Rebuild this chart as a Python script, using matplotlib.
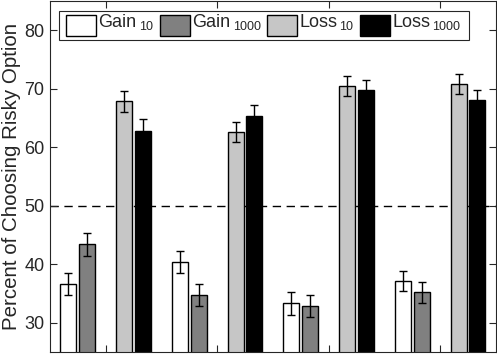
import numpy as np
import matplotlib.pyplot as plt
from matplotlib.patches import Rectangle

plt.rcParams['font.family'] = ['Liberation Sans', 'DejaVu Sans']

# four conditions, each with gain pair and loss pair
groups = [1, 2, 3, 4]
leg_main = ['Gain', 'Gain', 'Loss', 'Loss']
leg_sub = ['10', '1000', '10', '1000']
gain10 = [36.6, 40.4, 33.3, 37.1]
gain1000 = [43.4, 34.8, 32.8, 35.2]
loss10 = [67.9, 62.6, 70.5, 70.8]
loss1000 = [62.8, 65.4, 69.8, 68.1]
err_gain10 = [1.9, 1.9, 1.9, 1.7]
err_gain1000 = [2.0, 1.9, 1.9, 1.8]
err_loss10 = [1.8, 1.7, 1.7, 1.7]
err_loss1000 = [2.0, 1.8, 1.7, 1.7]

series = [gain10, gain1000, loss10, loss1000]
errs = [err_gain10, err_gain1000, err_loss10, err_loss1000]
colors = ['white', '#808080', '#c6c6c6', 'black']
offsets = [-0.335, -0.166, 0.166, 0.333]
axcol = '#262626'

W, H = 497, 354
fig = plt.figure(figsize=(W / 100, H / 100), dpi=100)
ax = fig.add_axes([50/W, 2/H, 446/W, 351/H])

x = np.array(groups)
for vals, err, c, off in zip(series, errs, colors, offsets):
    ax.bar(x + off, vals, width=0.143, color=c, edgecolor='black', linewidth=1.0, zorder=2)
    ax.errorbar(x + off, vals, yerr=err, fmt='none', ecolor='black',
                elinewidth=1.0, capsize=3, capthick=1.0, zorder=3)

ax.axhline(50, color='black', linestyle=(0, (6, 4)), linewidth=1.0, zorder=1)

ax.set_xlim(0.5, 4.5)
ax.set_ylim(25, 85)
ax.set_xticks(groups)
ax.set_xticklabels([])
ax.set_yticks([30, 40, 50, 60, 70, 80])
ax.tick_params(axis='both', direction='in', length=5, width=0.8, color=axcol,
               top=True, right=True, labelsize=13, labelcolor=axcol, pad=4)
for s in ax.spines.values():
    s.set_color(axcol)
    s.set_linewidth(0.8)
ax.set_ylabel('Percent of Choosing Risky Option', fontsize=14.8, color=axcol, labelpad=2)

# legend drawn by hand (MATLAB style: big lowered subscripts)
def px(xp, yp):
    # figure pixel (from top-left) -> figure fraction
    return xp / W, 1 - yp / H

tf = fig.transFigure
fx, fy = px(59, 40)
ax.add_patch(Rectangle((fx, fy), 410 / W, 29 / H, transform=tf, clip_on=False,
                       facecolor='white', edgecolor=axcol, linewidth=0.8, zorder=5))
handle_x = [66, 160, 267, 360]
for hx, c, m, sb in zip(handle_x, colors, leg_main, leg_sub):
    rx, ry = px(hx, 36)
    ax.add_patch(Rectangle((rx, ry), 30 / W, 21 / H, transform=tf, clip_on=False,
                           facecolor=c, edgecolor='black', linewidth=1.0, zorder=6))
    tx, ty = px(hx + 32.5, 27)
    t = ax.text(tx, ty, m, transform=tf, fontsize=13, color=axcol,
                va='baseline', ha='left', zorder=7, clip_on=False)
    ax.annotate(sb, xy=(1, 0), xycoords=t, xytext=(2, 1), textcoords='offset pixels',
                fontsize=9, color=axcol, va='baseline', ha='left', zorder=7,
                annotation_clip=False)

fig.savefig('out.png', dpi=100)
